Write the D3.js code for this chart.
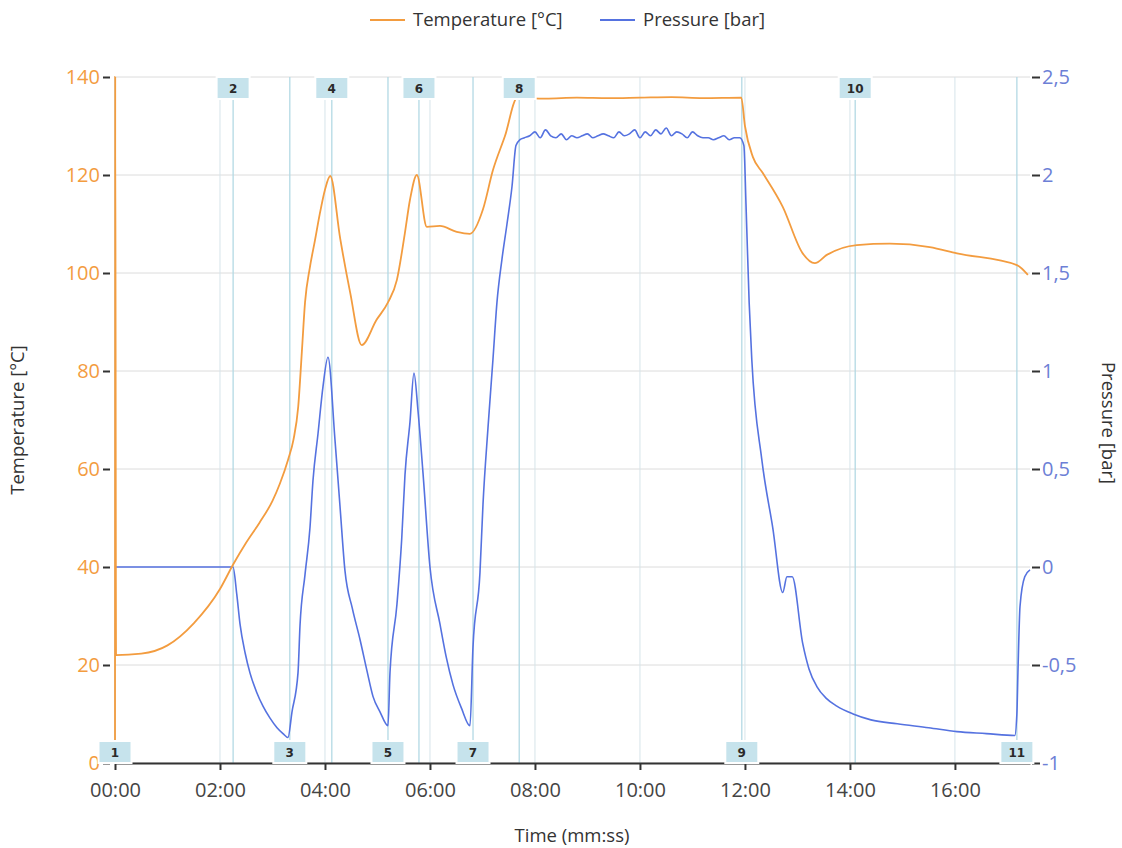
<!DOCTYPE html>
<html lang="en">
<head>
    <meta charset="utf-8">
    <title>Temperature and Pressure</title>
    <script src="https://cdn.jsdelivr.net/npm/d3@7"></script>
    <style>
        body { margin: 0; background: #fff; font-family: "Open Sans", "DejaVu Sans", sans-serif; }
    </style>
</head>
<body>
    <div class="div_d3"></div>

    <script type="text/javascript">
        let w = 1122;
        let h = 848;

        // time in minutes
        let tempTime = [0, 0.004, 0.02, 0.5, 1.0, 1.5, 2.0, 2.25, 2.5, 2.75, 3.0, 3.14, 3.3, 3.4, 3.49, 3.56, 3.62, 3.71, 3.81, 3.90, 4.00, 4.10,
            4.29, 4.48, 4.70, 4.98, 5.20, 5.37, 5.52, 5.62, 5.75, 5.94, 6.19, 6.51, 6.76, 7.01, 7.20, 7.43, 7.66,
            8.2, 8.8, 9.4, 10.0, 10.6, 11.2, 11.93, 12.0, 12.15, 12.34, 12.72, 13.10, 13.33, 13.56, 14.13, 14.76,
            15.52, 16.04, 17.18, 17.39];
        let tempValue = [0, 140, 22, 22.3, 24, 28.5, 35.5, 40.5, 45, 49, 53.5, 57, 62, 66, 72.7, 84, 94, 101, 106.7, 112, 117, 119.8,
            107, 96, 85.3, 90.4, 94, 98.6, 108, 115, 120, 109.4, 109.6, 108.4, 108, 113, 121, 128, 135.7,
            135.6, 135.8, 135.7, 135.8, 135.9, 135.7, 135.8, 130, 123.7, 120.4, 113.5, 104, 102, 103.7, 105.7, 106,
            105.3, 104, 101.6, 99.6];

        let pressTime = [0, 1.0, 2.248, 2.32, 2.381, 2.48, 2.571, 2.7, 2.819, 2.95, 3.086, 3.2, 3.295, 3.371, 3.486, 3.524, 3.619, 3.714,
            3.771, 3.867, 3.962, 4.057, 4.190, 4.286, 4.381, 4.52, 4.667, 4.8, 4.914, 5.05, 5.200, 5.238, 5.371, 5.461,
            5.524, 5.619, 5.695, 5.771, 5.867, 6.0, 6.190, 6.31, 6.438, 6.6, 6.762, 6.819, 6.952, 7.01, 7.105, 7.2,
            7.276, 7.371, 7.467, 7.562, 7.638, 7.714,
            7.8, 7.9, 8.0, 8.1, 8.2, 8.3, 8.4, 8.5, 8.6, 8.7, 8.8, 8.9, 9.0, 9.1, 9.2, 9.3, 9.4, 9.5, 9.6, 9.7, 9.8,
            9.9, 10.0, 10.1, 10.2, 10.3, 10.4, 10.5, 10.6, 10.7, 10.8, 10.9, 11.0, 11.1, 11.2, 11.3, 11.4, 11.5,
            11.6, 11.7, 11.8, 11.9, 11.98, 12.02, 12.08, 12.13, 12.32, 12.53, 12.72, 12.8, 12.9, 13.10, 13.22, 13.37,
            13.55, 13.75, 14.06, 14.4, 14.9, 15.5, 16.04, 16.6, 17.14, 17.18, 17.20, 17.24, 17.33, 17.43];
        let pressValue = [0, 0, 0, -0.14, -0.29, -0.44, -0.54, -0.64, -0.71, -0.77, -0.82, -0.85, -0.87, -0.74, -0.54, -0.30, -0.04, 0.20,
            0.44, 0.68, 0.92, 1.07, 0.65, 0.31, -0.02, -0.21, -0.37, -0.53, -0.66, -0.74, -0.81, -0.54, -0.19, 0.14,
            0.47, 0.74, 0.99, 0.80, 0.48, 0.0, -0.29, -0.46, -0.60, -0.72, -0.81, -0.41, -0.03, 0.32, 0.71, 1.06,
            1.35, 1.57, 1.75, 1.94, 2.15, 2.18,
            2.19, 2.2, 2.22, 2.19, 2.23, 2.2, 2.19, 2.21, 2.18, 2.2, 2.19, 2.2, 2.21, 2.19, 2.2, 2.21, 2.2, 2.19, 2.22, 2.2, 2.21,
            2.23, 2.19, 2.22, 2.2, 2.23, 2.21, 2.24, 2.2, 2.22, 2.21, 2.19, 2.22, 2.2, 2.19, 2.19, 2.18, 2.19,
            2.2, 2.18, 2.19, 2.19, 2.15, 1.85, 1.35, 1.06, 0.55, 0.20, -0.13, -0.05, -0.05, -0.39, -0.52, -0.61,
            -0.67, -0.71, -0.75, -0.78, -0.80, -0.82, -0.84, -0.85, -0.86, -0.75, -0.54, -0.2, -0.05, -0.015];

        // event markers
        let eventTime = [0, 2.25, 3.33, 4.13, 5.2, 5.79, 6.82, 7.70, 11.94, 14.1, 17.18];
        let eventLabel = ["1", "2", "3", "4", "5", "6", "7", "8", "9", "10", "11"];

        let timeTicks = [0, 2, 4, 6, 8, 10, 12, 14, 16];
        let tempTicks = [0, 20, 40, 60, 80, 100, 120, 140];
        let pressTicks = [-1, -0.5, 0, 0.5, 1, 1.5, 2, 2.5];

        let orange = "#f39c3f";
        let blue = "#5572e0";

        let mLeft = 115, mRight = 1030, mTop = 77, mBottom = 763;

        let x = d3.scaleLinear().domain([0, 17.43]).range([mLeft, mRight]);
        let yT = d3.scaleLinear().domain([0, 140]).range([mBottom, mTop]);
        let yP = d3.scaleLinear().domain([-1, 2.5]).range([mBottom, mTop]);

        let svg = d3.select('.div_d3').append('svg')
            .attr('width', w)
            .attr('height', h);

        // horizontal grid
        svg.append("g")
            .selectAll("line")
            .data(tempTicks)
            .enter()
            .append("line")
                .attr("x1", mLeft)
                .attr("x2", mRight)
                .attr("y1", d => yT(d))
                .attr("y2", d => yT(d))
                .attr("stroke", "#dcdcdc")
                .attr("stroke-width", 1);

        // vertical grid
        svg.append("g")
            .selectAll("line")
            .data(timeTicks.slice(1))
            .enter()
            .append("line")
                .attr("x1", d => x(d))
                .attr("x2", d => x(d))
                .attr("y1", mTop)
                .attr("y2", mBottom)
                .attr("stroke", "#d6e4ea")
                .attr("stroke-width", 1);

        // event lines
        svg.append("g")
            .selectAll("line")
            .data(eventTime)
            .enter()
            .append("line")
                .attr("x1", d => x(d))
                .attr("x2", d => x(d))
                .attr("y1", mTop)
                .attr("y2", mBottom)
                .attr("stroke", "#b3d9e4")
                .attr("stroke-width", 1.3);

        // x axis
        let xAxis = d3.axisBottom(x)
            .tickValues(timeTicks)
            .tickSize(7)
            .tickSizeOuter(0)
            .tickFormat(d => String(d).padStart(2, "0") + ":00");
        let gx = svg.append("g")
            .attr("transform", "translate(0," + mBottom + ")")
            .call(xAxis);
        gx.select(".domain").attr("stroke", "#333").attr("stroke-width", 2);
        gx.selectAll(".tick line").attr("stroke", "#333").attr("stroke-width", 2);
        gx.selectAll(".tick text")
            .attr("fill", "#444")
            .attr("y", 14)
            .attr("dy", "1.0em")
            .style("font-size", "20px")
            .style("font-family", "Open Sans, sans-serif");

        // left axis
        let gl = svg.append("g")
            .attr("transform", "translate(" + (mLeft - 5) + ",0)")
            .call(d3.axisLeft(yT).tickValues(tempTicks).tickSize(7).tickPadding(3));
        gl.select(".domain").remove();
        gl.selectAll(".tick line").attr("stroke", "#333").attr("stroke-width", 2);
        gl.selectAll(".tick text")
            .attr("fill", orange)
            .style("font-size", "20px")
            .style("font-family", "Open Sans, sans-serif");

        // right axis
        let gr = svg.append("g")
            .attr("transform", "translate(" + (mRight + 2) + ",0)")
            .call(d3.axisRight(yP).tickValues(pressTicks).tickSize(8).tickPadding(2)
                .tickFormat(d => String(d).replace(".", ",")));
        gr.select(".domain").remove();
        gr.selectAll(".tick line").attr("stroke", "#333").attr("stroke-width", 2);
        gr.selectAll(".tick text")
            .attr("fill", "#6d7fd6")
            .style("font-size", "20px")
            .style("font-family", "Open Sans, sans-serif");

        // lines
        let tempLine = d3.line()
            .x((d, i) => x(tempTime[i]))
            .y(d => yT(d))
            .curve(d3.curveMonotoneX);
        let pressLine = d3.line()
            .x((d, i) => x(pressTime[i]))
            .y(d => yP(d))
            .curve(d3.curveMonotoneX);

        svg.append("path")
            .datum(pressValue)
            .attr("d", pressLine)
            .attr("fill", "none")
            .attr("stroke", blue)
            .attr("stroke-width", 1.6);

        svg.append("path")
            .datum(tempValue)
            .attr("d", tempLine)
            .attr("fill", "none")
            .attr("stroke", orange)
            .attr("stroke-width", 1.8);

        // event boxes: odd numbers at the bottom, even at the top
        let boxes = svg.append("g")
            .selectAll("g")
            .data(eventTime)
            .enter()
            .append("g")
                .attr("transform", function (d, i) {
                    let by = (i % 2 === 0) ? mBottom - 22 : mTop;
                    return "translate(" + (x(d) - 16.5) + "," + by + ")";
                });
        boxes.append("rect")
            .attr("width", 33)
            .attr("height", 22)
            .attr("fill", "#c6e3ec")
            .attr("stroke", "#fff")
            .attr("stroke-width", 2);
        boxes.append("text")
            .text((d, i) => eventLabel[i])
            .attr("x", 16.5)
            .attr("y", 15.5)
            .attr("text-anchor", "middle")
            .attr("fill", "#2a2a2a")
            .style("font-size", "12px")
            .style("font-weight", "bold")
            .style("font-family", "DejaVu Sans, sans-serif");

        // axis titles
        svg.append("text")
            .text("Temperature [°C]")
            .attr("transform", "translate(24,420) rotate(-90)")
            .attr("text-anchor", "middle")
            .attr("fill", "#333")
            .style("font-size", "18.5px");
        svg.append("text")
            .text("Pressure [bar]")
            .attr("transform", "translate(1102,423) rotate(90)")
            .attr("text-anchor", "middle")
            .attr("fill", "#333")
            .style("font-size", "18.5px");
        svg.append("text")
            .text("Time (mm:ss)")
            .attr("x", 572)
            .attr("y", 842)
            .attr("text-anchor", "middle")
            .attr("fill", "#333")
            .style("font-size", "18.5px");

        // legend
        let legend = [
            { name: "Temperature [°C]", color: orange, x: 370 },
            { name: "Pressure [bar]", color: blue, x: 600 }
        ];
        let lg = svg.append("g")
            .selectAll("g")
            .data(legend)
            .enter()
            .append("g")
                .attr("transform", d => "translate(" + d.x + ",20)");
        lg.append("line")
            .attr("x1", 0)
            .attr("x2", 35)
            .attr("stroke", d => d.color)
            .attr("stroke-width", 2);
        lg.append("text")
            .text(d => d.name)
            .attr("x", 43)
            .attr("y", 6)
            .attr("fill", "#333")
            .style("font-size", "18.5px");
    </script>
</body>
</html>
